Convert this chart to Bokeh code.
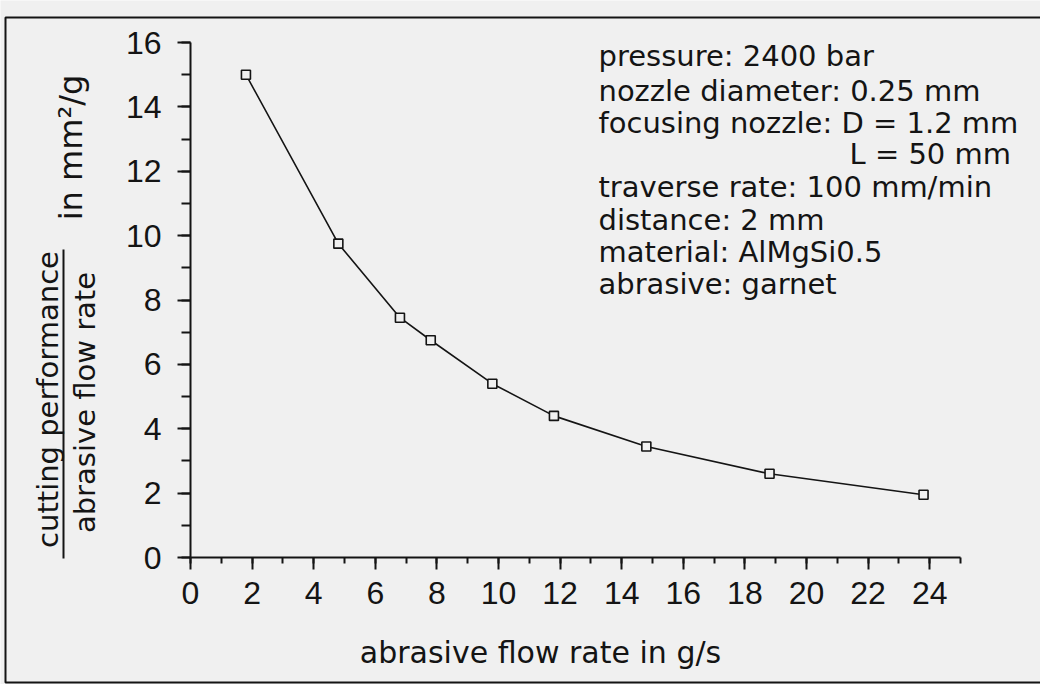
import math
from bokeh.plotting import figure
from bokeh.models import Range1d, SingleIntervalTicker, Label, BoxAnnotation
from bokeh.embed import file_html
from bokeh.resources import INLINE

# ---- data ----
flow_rate = [1.8, 4.8, 6.8, 7.8, 9.8, 11.8, 14.8, 18.8, 23.8]
performance = [15.0, 9.75, 7.45, 6.75, 5.4, 4.4, 3.45, 2.6, 1.95]
x_axis_max = 25
y_axis_max = 16
x_tick_step = 2
y_tick_step = 2
x_label = "abrasive flow rate in g/s"
y_label_num = "cutting performance"
y_label_den = "abrasive flow rate"
y_label_unit = "in mm\u00b2/g"
info_lines = [
    "pressure: 2400 bar",
    "nozzle diameter: 0.25 mm",
    "focusing nozzle: D = 1.2 mm",
    "L = 50 mm",
    "traverse rate: 100 mm/min",
    "distance: 2 mm",
    "material: AlMgSi0.5",
    "abrasive: garnet",
]

BG = "#f0f0f0"
INK = "#141414"
FONT = "DejaVu Sans"
TICK_FONT = "Liberation Sans"

W, H = 1040, 684
# where the axes' data box sits on the canvas (px)
AX_L, AX_R, AX_T, AX_B = 190, 960, 42, 557
sx = x_axis_max / (AX_R - AX_L)
sy = y_axis_max / (AX_B - AX_T)

# frame covers the whole canvas; axes are pinned at the data origin
p = figure(width=W, height=H,
           x_range=Range1d(-AX_L * sx, (W - AX_L) * sx),
           y_range=Range1d(-(H - AX_B) * sy, AX_B * sy),
           output_backend="svg", toolbar_location=None,
           min_border_left=0, min_border_right=0,
           min_border_top=0, min_border_bottom=0)
p.background_fill_color = BG
p.border_fill_color = BG
p.outline_line_color = None
p.grid.visible = False

p.xaxis.fixed_location = 0
p.yaxis.fixed_location = 0
p.xaxis.bounds = (0, x_axis_max)
p.yaxis.bounds = (0, y_axis_max)

for ax, step in ((p.xaxis, x_tick_step), (p.yaxis, y_tick_step)):
    ax.ticker = SingleIntervalTicker(interval=step, num_minor_ticks=2)
    ax.axis_line_color = INK
    ax.axis_line_width = 2
    ax.major_tick_line_color = INK
    ax.major_tick_line_width = 2
    ax.minor_tick_line_color = INK
    ax.minor_tick_line_width = 2
    ax.major_tick_in = 0
    ax.minor_tick_in = 0
    ax.major_label_text_font = TICK_FONT
    ax.major_label_text_font_size = "32px"
    ax.major_label_text_color = INK

p.yaxis.major_tick_out = 13
p.yaxis.minor_tick_out = 9
p.yaxis.major_label_standoff = 16
p.xaxis.major_tick_out = 12
p.xaxis.minor_tick_out = 6
p.xaxis.major_label_standoff = 12

p.line(flow_rate, performance, line_color=INK, line_width=1.6)
p.scatter(flow_rate, performance, marker="square", size=9, fill_color=BG,
          line_color=INK, line_width=1.6)

# helpers: page pixel -> data coordinate (annotation placement only)
def dx(X):
    return (X - 8 - AX_L) * sx

def dy(Y):
    return (AX_B - (Y - 8)) * sy

def add_label(text, X, Y, size="29px", align="left", angle=0.0):
    p.add_layout(Label(x=dx(X), y=dy(Y), text=text, text_font=FONT,
                       text_font_size=size, text_color=INK, text_align=align,
                       text_baseline="middle", angle=angle))

# info block
info_y = [63, 98, 130, 161, 194, 227, 259, 291]
for txt, yy in zip(info_lines, info_y):
    add_label(txt, 857 if txt.startswith("L =") else 606, yy)

# axis titles
add_label(x_label, 548, 660, size="30px", align="center")
add_label(y_label_num, 55, 407, align="center", angle=math.pi / 2)
add_label(y_label_den, 92, 410, align="center", angle=math.pi / 2)
add_label(y_label_unit, 78, 155, size="32px", align="center", angle=math.pi / 2)

# fraction bar of the y title
p.add_layout(BoxAnnotation(left=dx(70), right=dx(72), top=dy(257), bottom=dy(566),
                           fill_color=INK, fill_alpha=1, line_color=None))
# outer frame of the scanned figure
p.add_layout(BoxAnnotation(left=dx(13), right=dx(1100), top=dy(25), bottom=dy(690),
                           fill_alpha=0, line_color=INK, line_alpha=1, line_width=2))

open("out.html", "w").write(file_html(p, INLINE))
